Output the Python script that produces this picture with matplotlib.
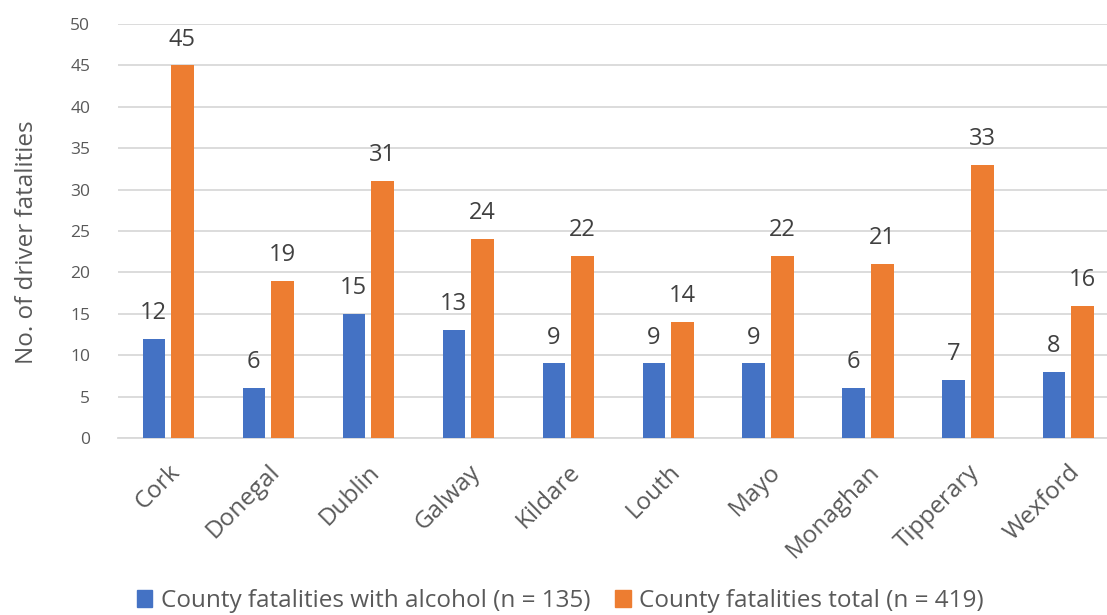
import numpy as np
import matplotlib.pyplot as plt
from matplotlib.patches import Patch

plt.rcParams['font.family'] = ['Open Sans', 'DejaVu Sans']

counties = ['Cork', 'Donegal', 'Dublin', 'Galway', 'Kildare', 'Louth',
            'Mayo', 'Monaghan', 'Tipperary', 'Wexford']
with_alcohol = [12, 6, 15, 13, 9, 9, 9, 6, 7, 8]
total = [45, 19, 31, 24, 22, 14, 22, 21, 33, 16]
series_names = ['County fatalities with alcohol (n = 135)',
                'County fatalities total (n = 419)']

blue = '#4472C4'
orange = '#ED7D31'
text_col = '#595959'
grid_col = '#D9D9D9'

fig = plt.figure(figsize=(11.07, 6.15), dpi=100)
ax = fig.add_axes([118 / 1107, 177 / 615, (1107 - 118) / 1107, 414 / 615])

x = np.arange(len(counties))
w = 0.226
b1 = ax.bar(x - 0.142, with_alcohol, w, color=blue, zorder=3)
b2 = ax.bar(x + 0.142, total, w, color=orange, zorder=3)

# value labels above each bar
for bars, vals in ((b1, with_alcohol), (b2, total)):
    for bar, v in zip(bars, vals):
        ax.annotate(str(v), (bar.get_x() + bar.get_width() / 2, v),
                    xytext=(0, 10), textcoords='offset points',
                    ha='center', va='bottom', fontsize=17, color='#404040')

ax.set_ylim(0, 50)
ax.set_xlim(-0.5, 9.39)
ax.set_yticks(range(0, 51, 5))
ax.yaxis.grid(True, color=grid_col, linewidth=1.3, zorder=0)
ax.set_axisbelow(True)
for s in ['top', 'right', 'left']:
    ax.spines[s].set_visible(False)
ax.spines['bottom'].set_color(grid_col)
ax.spines['bottom'].set_linewidth(1.3)
ax.tick_params(axis='both', length=0, colors=text_col)
ax.tick_params(axis='y', labelsize=12.5, pad=20)

ax.set_xticks(x)
ax.set_xticklabels(counties, rotation=45, ha='right', rotation_mode='anchor',
                   fontsize=17.5, color=text_col)
ax.tick_params(axis='x', pad=16)

fig.text(27 / 1107, 1 - 242 / 615, 'No. of driver fatalities', rotation=90,
         ha='center', va='center', fontsize=17.5, color=text_col)

handles = [Patch(color=blue), Patch(color=orange)]
fig.legend(handles, series_names, loc='center', bbox_to_anchor=(0.506, 1 - 601 / 615),
           ncol=2, frameon=False, fontsize=17.5, labelcolor=text_col,
           handlelength=0.65, handleheight=0.65, handletextpad=0.35, columnspacing=1.0)

fig.savefig('out.png', dpi=100)
